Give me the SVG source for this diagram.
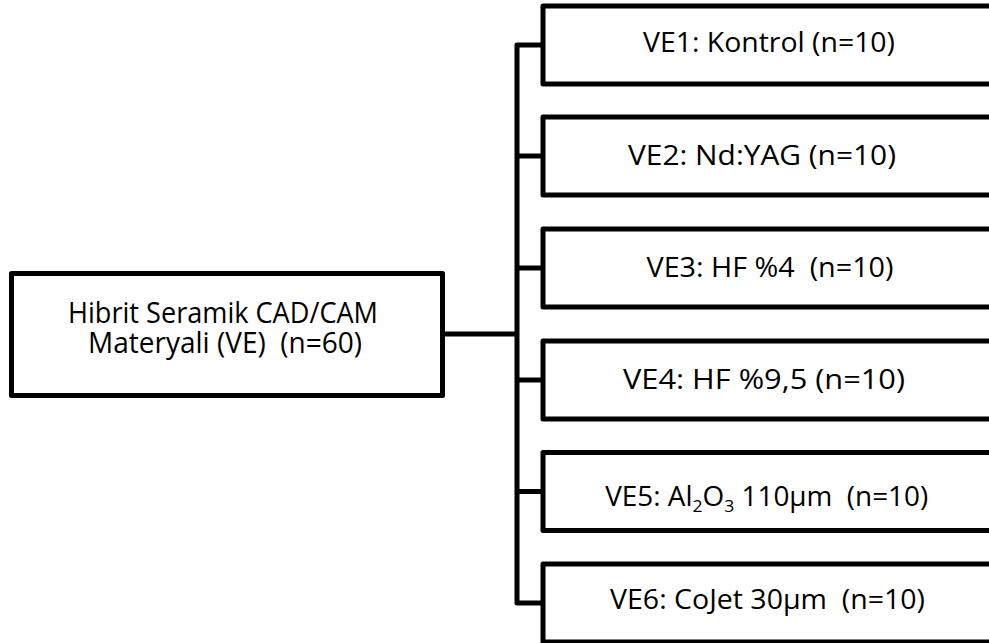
<svg xmlns="http://www.w3.org/2000/svg" width="989" height="643" viewBox="0 0 989 643">
<style>
.box{fill:#fff;stroke:#000;stroke-width:5;stroke-linejoin:round}
.conn{fill:none;stroke:#000;stroke-width:5;stroke-linejoin:round}
text{font-family:"Open Sans","Liberation Sans",sans-serif;fill:#000;text-anchor:middle}
.r{font-size:27px}
.l{font-size:28.5px}
.sub{font-size:17px}
</style>
<rect width="989" height="643" fill="#fff"/>
<g id="connectors">
<path class="conn" d="M442.5,334 H517 M543,45 H517 V603 H543 M517,156 H543 M517,268 H543 M517,380 H543 M517,491.5 H543"/>
</g>
<g id="root">
<rect class="box" x="11.5" y="273.5" width="431" height="122"/>
<text class="l" x="223" y="323.3" textLength="310" lengthAdjust="spacingAndGlyphs">Hibrit Seramik CAD/CAM</text>
<text class="l" x="225" y="352.7" textLength="274" lengthAdjust="spacingAndGlyphs" xml:space="preserve">Materyali (VE)  (n=60)</text>
</g>
<g id="ve1">
<rect class="box" x="543" y="6" width="460" height="78"/>
<text class="r" x="769" y="52" textLength="252" lengthAdjust="spacingAndGlyphs">VE1: Kontrol (n=10)</text>
</g>
<g id="ve2">
<rect class="box" x="543" y="117" width="460" height="78"/>
<text class="r" x="762" y="164.5" textLength="268" lengthAdjust="spacingAndGlyphs">VE2: Nd:YAG (n=10)</text>
</g>
<g id="ve3">
<rect class="box" x="543" y="229" width="460" height="78"/>
<text class="r" x="770" y="277" textLength="247" lengthAdjust="spacingAndGlyphs" xml:space="preserve">VE3: HF %4  (n=10)</text>
</g>
<g id="ve4">
<rect class="box" x="543" y="341" width="460" height="78"/>
<text class="r" x="764" y="388.5" textLength="282" lengthAdjust="spacingAndGlyphs">VE4: HF %9,5 (n=10)</text>
</g>
<g id="ve5">
<rect class="box" x="543" y="452.5" width="460" height="78"/>
<text class="r" x="766.7" y="506" textLength="323" lengthAdjust="spacingAndGlyphs" xml:space="preserve">VE5: Al<tspan class="sub" dy="6">2</tspan><tspan dy="-6">O</tspan><tspan class="sub" dy="6">3</tspan><tspan dy="-6"> 110µm  (n=10)</tspan></text>
</g>
<g id="ve6">
<rect class="box" x="543" y="564" width="460" height="78"/>
<text class="r" x="767.5" y="608.5" textLength="315" lengthAdjust="spacingAndGlyphs" xml:space="preserve">VE6: CoJet 30µm  (n=10)</text>
</g>
</svg>
